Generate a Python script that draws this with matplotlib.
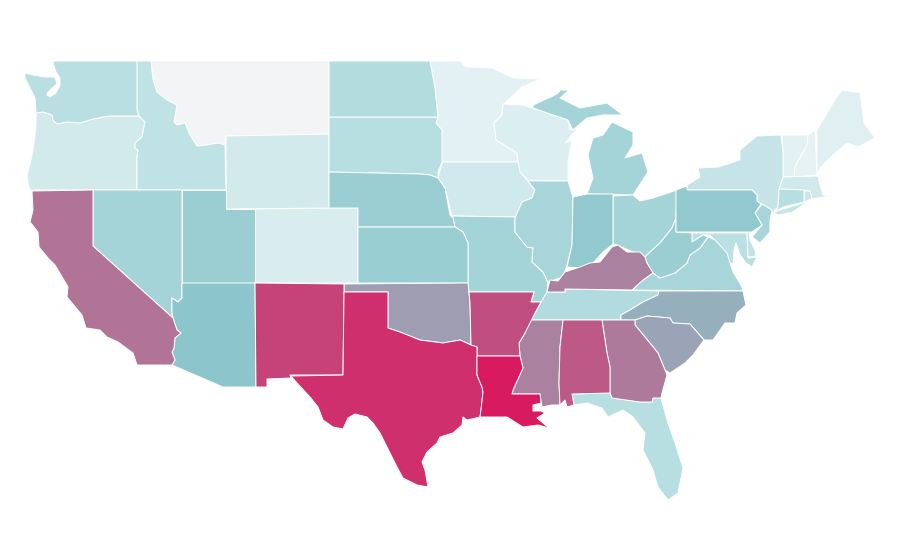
import matplotlib
matplotlib.use("Agg")
import matplotlib.pyplot as plt
from matplotlib.collections import PolyCollection
from matplotlib.colors import LinearSegmentedColormap, Normalize

# valores (0 = claro, 50 = verde-agua, 100 = vermelho)
states = ["MT", "MN", "VT", "NH", "ME", "WI", "CO", "WY", "OR", "MA", "IA", "NY",
          "RI", "ID", "MD", "DE", "WA", "FL", "SD", "CT", "ND", "TN", "NJ", "VA",
          "MO", "NV", "MI", "IL", "OH", "WV", "UT", "NE", "KS", "IN", "PA", "AZ",
          "NC", "SC", "OK", "MS", "KY", "GA", "CA", "AL", "AR", "NM", "TX", "LA"]
values = [0, 8, 8, 7, 10, 12, 13, 16, 16, 17, 17, 22,
          20, 25, 27, 25, 28, 29, 29, 29, 31, 32, 37, 37,
          38, 38, 38, 37, 38, 43, 43, 43, 44, 47, 47, 50,
          57, 60, 62, 70, 70, 72, 74, 82, 85, 88, 94, 100]

# contornos em pixels da imagem
outlines = {
    "WA": [[(54, 61), (137, 61), (137, 110), (139, 116), (109, 116), (93, 119), (80, 123), (67, 122),
            (57, 124), (53, 120), (52, 115), (43, 112), (36, 113), (35, 98), (30, 88), (25, 78), (25, 73),
            (33, 75), (45, 77), (55, 77), (57, 84), (52, 88), (48, 92), (47, 95), (50, 97), (56, 93),
            (60, 85), (60, 78), (56, 72), (53, 63)]],
    "OR": [[(36, 113), (43, 112), (52, 115), (53, 120), (57, 124), (67, 122), (80, 123), (93, 119),
            (109, 116), (139, 116), (145, 122), (142, 137), (135, 143), (135, 148), (138, 150), (137, 157),
            (137, 190), (30, 190), (28, 183), (27, 175), (31, 160), (33, 150), (35, 135), (36, 125)]],
    "ID": [[(137, 61), (151, 61), (153, 80), (157, 92), (167, 100), (177, 105), (174, 122), (177, 125),
            (185, 123), (190, 135), (197, 146), (207, 145), (218, 143), (225, 145), (226, 190), (137, 190),
            (137, 157), (138, 150), (135, 148), (135, 143), (142, 137), (145, 122), (139, 116), (137, 110)]],
    "MT": [[(151, 61), (329, 61), (329, 134), (226, 136), (225, 145), (218, 143), (207, 145), (197, 146),
            (190, 135), (185, 123), (177, 125), (174, 122), (177, 105), (167, 100), (157, 92), (153, 80)]],
    "WY": [[(226, 136), (329, 134), (329, 208), (226, 209)]],
    "CO": [[(255, 209), (329, 208), (358, 208), (358, 283), (255, 283)]],
    "NM": [[(255, 283), (344, 284), (344, 292), (343, 375), (290, 375), (291, 378), (267, 379), (267, 387),
            (256, 387)]],
    "AZ": [[(182, 283), (255, 283), (256, 387), (223, 387), (172, 365), (175, 360), (172, 352), (174, 348),
            (175, 338), (181, 333), (177, 330), (173, 318), (172, 312), (172, 298), (178, 302), (182, 298)]],
    "NV": [[(93, 190), (182, 190), (182, 298), (178, 302), (172, 298), (172, 312), (173, 318), (93, 246)]],
    "UT": [[(182, 190), (226, 190), (226, 209), (255, 209), (255, 283), (182, 283)]],
    "CA": [[(32, 191), (93, 190), (93, 246), (173, 318), (177, 330), (181, 333), (175, 338), (174, 348),
            (172, 352), (175, 360), (172, 365), (137, 365), (133, 353), (118, 342), (107, 337), (100, 330),
            (86, 328), (82, 315), (67, 297), (68, 287), (58, 270), (55, 265), (48, 258), (39, 247), (38, 232),
            (30, 222), (33, 210)]],
    "ND": [[(329, 61), (430, 61), (435, 88), (438, 117), (329, 117)]],
    "SD": [[(329, 117), (438, 117), (436, 123), (442, 130), (442, 162), (438, 172), (438, 178), (430, 175),
            (420, 174), (329, 172)]],
    "NE": [[(329, 172), (420, 174), (430, 175), (438, 178), (445, 188), (450, 215), (453, 218), (455, 227),
            (358, 227), (358, 208), (329, 208)]],
    "KS": [[(358, 227), (455, 227), (463, 232), (468, 243), (468, 283), (358, 283)]],
    "OK": [[(344, 284), (468, 283), (470, 303), (471, 345), (460, 340), (443, 343), (420, 340), (400, 332),
            (388, 328), (388, 292), (344, 292)]],
    "TX": [[(344, 292), (388, 292), (388, 328), (400, 332), (420, 340), (443, 343), (460, 340), (471, 345),
            (477, 347), (477, 375), (482, 387), (483, 392), (481, 410), (480, 417), (467, 420), (463, 417),
            (462, 425), (453, 433), (440, 437), (437, 443), (427, 452), (422, 462), (425, 470), (428, 487),
            (417, 485), (403, 478), (397, 467), (390, 453), (380, 433), (373, 423), (367, 417), (355, 414),
            (348, 418), (343, 429), (333, 427), (323, 420), (318, 407), (310, 397), (297, 383), (291, 376),
            (343, 375)]],
    "AR": [[(469, 292), (534, 292), (531, 302), (541, 302), (535, 313), (530, 323), (525, 333), (519, 343),
            (520, 356), (477, 356), (477, 347), (471, 345), (470, 303)]],
    "LA": [[(477, 356), (520, 356), (523, 368), (513, 390), (512, 394), (540, 394), (541, 403), (533, 405),
            (533, 411), (541, 411), (545, 413), (537, 418), (549, 428), (538, 425), (523, 427), (507, 417),
            (480, 417), (481, 410), (483, 392), (482, 387), (477, 375)]],
    "MS": [[(530, 320), (563, 320), (560, 347), (559, 383), (560, 405), (552, 405), (542, 407), (540, 394),
            (512, 394), (513, 390), (523, 368), (520, 356), (519, 343), (525, 333)]],
    "AL": [[(563, 320), (602, 320), (607, 353), (610, 367), (610, 393), (572, 394), (574, 405), (567, 407),
            (565, 400), (560, 405), (559, 383), (560, 347)]],
    "GA": [[(602, 320), (635, 320), (635, 325), (645, 337), (658, 353), (665, 370), (667, 375), (662, 393),
            (661, 398), (653, 398), (652, 402), (640, 402), (612, 398), (610, 393), (610, 367), (607, 353)]],
    "FL": [[(572, 394), (610, 393), (612, 398), (640, 402), (652, 402), (653, 398), (661, 398), (667, 420),
            (675, 443), (683, 468), (678, 493), (668, 500), (658, 487), (653, 470), (643, 450), (645, 433),
            (633, 417), (623, 410), (608, 417), (602, 408), (587, 403), (574, 405)]],
    "SC": [[(635, 320), (647, 316), (670, 318), (673, 323), (690, 324), (704, 340), (693, 355), (685, 363),
            (670, 373), (665, 370), (658, 353), (645, 337), (635, 325)]],
    "NC": [[(659, 291), (743, 291), (746, 305), (737, 313), (735, 323), (725, 323), (713, 340), (704, 340),
            (690, 324), (673, 323), (670, 318), (647, 316), (635, 320), (621, 320), (621, 315), (630, 310),
            (643, 302), (658, 295)]],
    "TN": [[(565, 289), (659, 291), (658, 295), (643, 302), (630, 310), (621, 315), (621, 320), (530, 320),
            (535, 313), (541, 302), (543, 292), (565, 292)]],
    "KY": [[(565, 289), (565, 292), (547, 292), (550, 280), (558, 281), (565, 272), (580, 267), (590, 263),
            (600, 262), (612, 247), (618, 245), (627, 252), (640, 252), (645, 257), (647, 263), (653, 273),
            (643, 280), (632, 290)]],
    "VA": [[(632, 290), (643, 280), (653, 273), (660, 278), (675, 273), (687, 263), (690, 255), (700, 248),
            (708, 237), (715, 240), (727, 253), (733, 272), (742, 287), (743, 291)]],
    "WV": [[(647, 263), (645, 257), (650, 252), (660, 243), (672, 228), (676, 218), (676, 232), (692, 233),
            (692, 242), (703, 235), (708, 237), (700, 248), (690, 255), (687, 263), (675, 273), (660, 278),
            (653, 273)]],
    "MD": [[(692, 233), (747, 233), (748, 258), (757, 257), (752, 267), (746, 263), (740, 255), (736, 243),
            (734, 250), (733, 265), (725, 258), (720, 247), (710, 235), (703, 235), (692, 242)]],
    "DE": [[(749, 231), (750, 240), (755, 250), (756, 256), (748, 257), (747, 233)]],
    "PA": [[(676, 190), (687, 186), (687, 190), (752, 190), (757, 195), (757, 201), (761, 204), (755, 213),
            (762, 225), (752, 232), (676, 232)]],
    "NY": [[(687, 190), (687, 185), (700, 177), (698, 168), (718, 167), (740, 160), (740, 150), (757, 136),
            (781, 135), (783, 153), (783, 177), (779, 189), (778, 207), (773, 212), (762, 204), (757, 201),
            (757, 195), (752, 190)],
           [(773, 212), (797, 205), (808, 201), (793, 212), (778, 215)]],
    "NJ": [[(762, 204), (772, 210), (770, 220), (770, 232), (760, 243), (752, 237), (762, 225), (755, 213)]],
    "CT": [[(779, 189), (804, 190), (804, 202), (783, 207), (775, 212), (778, 207)]],
    "RI": [[(804, 191), (810, 191), (812, 199), (804, 202)]],
    "MA": [[(783, 177), (818, 176), (820, 185), (823, 195), (830, 196), (817, 198), (812, 199), (810, 191),
            (779, 189)]],
    "VT": [[(782, 135), (808, 135), (807, 145), (795, 167), (794, 177), (783, 177), (783, 153)]],
    "NH": [[(808, 135), (815, 130), (817, 175), (794, 177), (795, 167), (807, 145)]],
    "ME": [[(817, 130), (833, 103), (842, 90), (860, 93), (864, 123), (875, 138), (858, 147), (847, 143),
            (833, 155), (820, 168), (817, 175)]],
    "MN": [[(430, 61), (461, 61), (463, 65), (467, 67), (492, 68), (513, 78), (540, 79), (522, 87), (503, 105),
            (502, 115), (494, 123), (496, 140), (517, 153), (518, 162), (440, 162), (442, 130), (436, 123),
            (438, 117), (435, 88)]],
    "WI": [[(503, 104), (522, 105), (533, 108), (553, 115), (568, 120), (570, 130), (578, 128), (565, 143),
            (572, 140), (568, 162), (568, 181), (528, 181), (520, 172), (518, 162), (517, 153), (496, 140),
            (494, 123), (502, 115)]],
    "MI": [[(533, 105), (553, 96), (558, 93), (560, 90), (569, 90), (560, 98), (580, 108), (607, 103), (623, 115),
            (603, 115), (587, 118), (573, 130), (568, 120), (553, 115), (533, 108)],
           [(612, 122), (633, 132), (633, 145), (625, 158), (642, 153), (648, 172), (633, 195), (587, 194),
            (593, 178), (588, 155), (593, 138), (603, 135)]],
    "IA": [[(440, 162), (518, 162), (520, 172), (528, 181), (535, 190), (532, 198), (522, 202), (520, 212),
            (515, 217), (452, 216), (445, 188), (438, 178), (442, 163)]],
    "IL": [[(528, 181), (568, 181), (573, 197), (572, 245), (567, 265), (563, 277), (548, 282), (543, 272),
            (532, 262), (533, 248), (527, 247), (515, 232), (515, 218), (522, 202), (532, 198), (535, 190)]],
    "IN": [[(573, 197), (587, 194), (613, 194), (613, 244), (603, 252), (593, 263), (580, 268), (567, 267),
            (572, 245)]],
    "OH": [[(613, 196), (633, 195), (640, 201), (653, 198), (677, 190), (676, 218), (672, 228), (660, 243),
            (650, 252), (645, 257), (633, 252), (617, 245), (613, 244)]],
    "MO": [[(452, 216), (515, 217), (515, 232), (527, 247), (533, 248), (532, 262), (543, 272), (548, 283),
            (547, 292), (541, 302), (531, 302), (534, 292), (469, 292), (468, 283), (468, 243), (463, 232),
            (455, 227), (453, 218)]],
}

# escala de cor: os tons claros puxam mais para o ciano
teal_red = LinearSegmentedColormap.from_list(
    "teal_red",
    [(0.0, "#f3f4f6"), (0.08, "#e3f1f4"), (0.28, "#b9dfe2"), (0.5, "#8cc6cb"), (1.0, "#d81b60")],
)

fig = plt.figure(figsize=(9, 5.6), dpi=100)
ax = fig.add_axes([0, 0, 1, 1])

polys = []
poly_values = []
for st, v in zip(states, values):
    for part in outlines[st]:
        polys.append(part)
        poly_values.append(v)

states_coll = PolyCollection(polys, array=poly_values, cmap=teal_red, norm=Normalize(0, 100),
                             edgecolors="white", linewidths=0.7)
ax.add_collection(states_coll)

ax.set_xlim(0, 900)
ax.set_ylim(560, 0)
ax.axis("off")

fig.savefig("out.png", dpi=100, facecolor="white")
plt.close(fig)
